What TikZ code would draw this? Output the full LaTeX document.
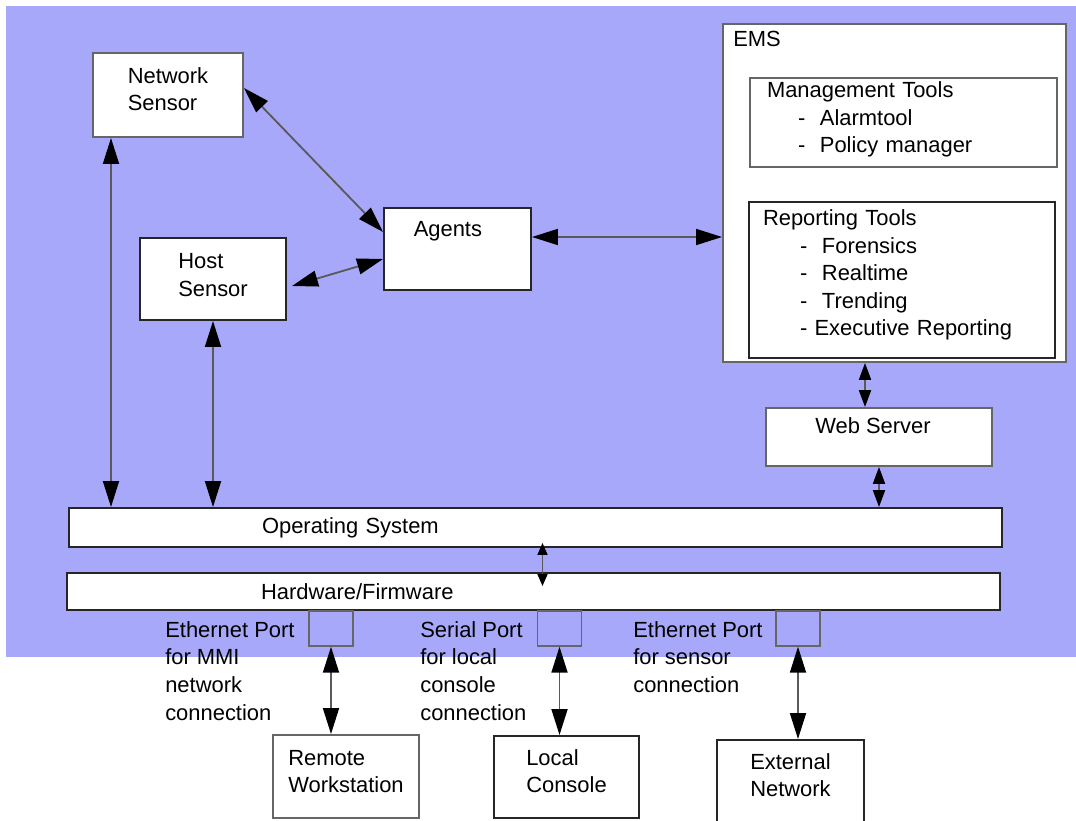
\documentclass[tikz,border=0pt]{standalone}
\usepackage{fontspec}
\setmainfont{Liberation Sans}
\usepackage{tikz}
\usetikzlibrary{arrows.meta, positioning, calc}

\definecolor{emsblue}{RGB}{168,168,250}

\begin{document}
\begin{tikzpicture}[node distance=1cm, font=\fontsize{15.6}{19.6}\selectfont]
\tikzstyle{box} = [rectangle, draw=black!85, line width=1.4pt, fill=white, align=left, inner sep=0pt]
\tikzstyle{port} = [rectangle, draw=black!60, line width=1pt, minimum width=1.1cm, minimum height=0.875cm]
\tikzstyle{note} = [align=left, anchor=north west, inner sep=0pt]
\tikzstyle{arrow} = [draw=black!65, line width=1.3pt, {Triangle[length=0.65cm,width=0.4cm,color=black]}-{Triangle[length=0.65cm,width=0.4cm,color=black]}]
\tikzstyle{shortarrow} = [draw=black!65, line width=1.2pt, {Triangle[length=0.42cm,width=0.3cm,color=black]}-{Triangle[length=0.42cm,width=0.3cm,color=black]}]
\tikzstyle{tinyarrow} = [draw=black!65, line width=1.2pt, {Triangle[length=0.3cm,width=0.25cm,color=black]}-{Triangle[length=0.3cm,width=0.25cm,color=black]}]

\useasboundingbox (0,0) rectangle (26.9,-20.525);
\fill [emsblue] (0.15,-0.15) rectangle (26.9,-16.425);

\node (netsensor) [box, draw=black!60, minimum width=3.75cm, minimum height=2.1cm, text depth=0.3cm] at (4.2,-2.375) {Network\\Sensor};
\node (hostsensor) [box, minimum width=3.65cm, minimum height=2.05cm, text depth=0.2cm, below of=netsensor, xshift=1.125cm, yshift=-3.6cm] {Host\\Sensor};
\node (agents) [box, minimum width=3.675cm, minimum height=2.05cm, right of=hostsensor, xshift=5.1125cm, yshift=0.75cm,
    label={[anchor=north, inner sep=0pt, xshift=-0.24cm, yshift=-0.35cm]north:Agents}] {};

\node (ems) [box, draw=black!60, minimum width=8.575cm, minimum height=8.45cm, right of=agents, xshift=9.925cm, yshift=1.4cm,
    label={[anchor=north west, inner sep=0pt, xshift=0.275cm, yshift=-0.2cm]north west:EMS}] {};
\node (mgmt) [box, draw=black!60, minimum width=7.675cm, minimum height=2.225cm, text width=6.825cm, inner xsep=0.425cm, text depth=1.645cm,
    above of=ems, xshift=0.225cm, yshift=0.7625cm] {Management Tools\\\hspace*{0.775cm}-\ \ Alarmtool\\\hspace*{0.775cm}-\ \ Policy manager};
\node (report) [box, minimum width=7.65cm, minimum height=3.9cm, text width=6.95cm, inner xsep=0.35cm, text depth=3.12cm,
    below of=mgmt, xshift=-0.0375cm, yshift=-2.9375cm] {Reporting Tools\\\hspace*{0.925cm}-\ \ Forensics\\\hspace*{0.925cm}-\ \ Realtime\\\hspace*{0.925cm}-\ \ Trending\\\hspace*{0.925cm}-\ Executive Reporting};
\node (websrv) [box, draw=black!60, minimum width=5.65cm, minimum height=1.45cm, below of=ems, xshift=-0.3875cm, yshift=-5.1cm,
    label={[anchor=north, inner sep=0pt, xshift=-0.15cm, yshift=-0.25cm]north:Web Server}] {};

\node (os) [box, minimum width=23.325cm, minimum height=0.975cm, text width=23.325cm, below of=agents, xshift=1.95cm, yshift=-5.9625cm] {\hspace*{4.825cm}Operating System};
\node (hw) [box, minimum width=23.325cm, minimum height=0.925cm, text width=23.325cm, below of=os, xshift=-0.05cm, yshift=-0.6cm] {\hspace*{4.85cm}Hardware/Firmware};

\node (port1) [port, below of=hw, xshift=-5.0625cm, yshift=0.075cm] {};
\node (port2) [port, below of=hw, xshift=0.65cm, yshift=0.075cm] {};
\node (port3) [port, below of=hw, xshift=6.6125cm, yshift=0.075cm] {};

\node (mminote) [note] at (4.125,-15.53) {Ethernet Port\\for MMI\\network\\connection};
\node (serialnote) [note] at (10.5,-15.53) {Serial Port\\for local\\console\\connection};
\node (sensornote) [note] at (15.825,-15.53) {Ethernet Port\\for sensor\\connection};

\node (remote) [box, draw=black!60, minimum width=3.65cm, minimum height=2.075cm, text depth=0.25cm, below of=port1, xshift=0.375cm, yshift=-2.7cm] {Remote\\Workstation};
\node (local) [box, minimum width=3.625cm, minimum height=2.05cm, text depth=0.3cm, below of=port2, xshift=0.175cm, yshift=-2.7125cm] {Local\\Console};
\node (extnet) [box, minimum width=3.675cm, minimum height=2.1cm, text depth=0.35cm, below of=port3, xshift=-0.1875cm, yshift=-2.8375cm] {External\\Network};

\coordinate (nsfoot) at ([xshift=-1.425cm]netsensor.south);
\coordinate (emsfoot) at ([xshift=-0.7375cm]ems.south);
\coordinate (osfoot) at ([xshift=0.175cm]os.south);

\draw [arrow] ([yshift=0.175cm]netsensor.east) -- ([yshift=0.425cm]agents.west);
\draw [arrow] ([xshift=0.125cm,yshift=-0.175cm]hostsensor.east) -- ([yshift=-0.25cm]agents.west);
\draw [arrow] ([yshift=0.3cm]agents.east) -- ([yshift=-1.1cm]ems.west);
\draw [arrow] (nsfoot) -- (nsfoot |- os.north);
\draw [arrow] (hostsensor.south) -- (hostsensor.south |- os.north);
\draw [shortarrow] (emsfoot) -- (emsfoot |- websrv.north);
\draw [shortarrow] (websrv.south) -- (websrv.south |- os.north);
\draw [tinyarrow, shorten <=-0.125cm, shorten >=-0.35cm] (osfoot) -- (osfoot |- hw.north);
\draw [arrow] (port1.south) -- (port1.south |- remote.north);
\draw [arrow] (port2.south) -- (port2.south |- local.north);
\draw [arrow] (port3.south) -- (port3.south |- extnet.north);

\end{tikzpicture}
\end{document}
